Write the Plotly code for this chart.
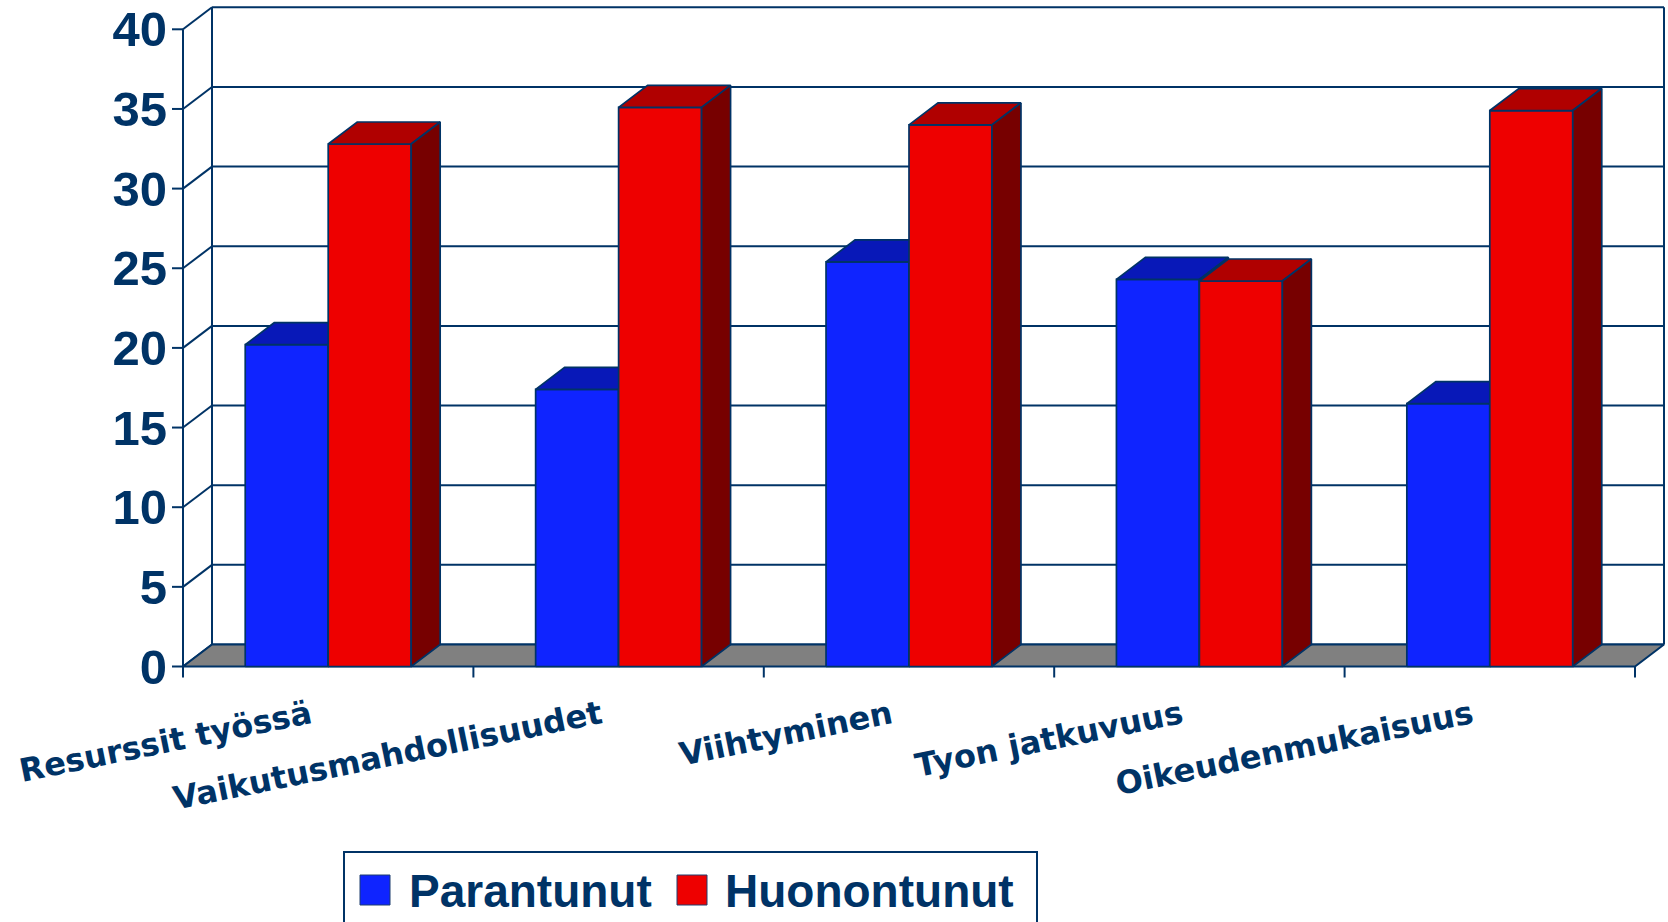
import plotly.graph_objects as go

# ---------------- data ----------------
categories = ["Resurssit työssä", "Vaikutusmahdollisuudet", "Viihtyminen",
              "Tyon jatkuvuus", "Oikeudenmukaisuus"]
parantunut = [20.2, 17.4, 25.4, 24.3, 16.5]
huonontunut = [32.8, 35.1, 34.0, 24.2, 34.9]
series_names = ["Parantunut", "Huonontunut"]
y_tick_values = [0, 5, 10, 15, 20, 25, 30, 35, 40]

# ---------------- style ----------------
NAVY = "#003366"
FACE_COLORS = {
    "Parantunut": ("#0F24FF", "#0818B8", "#000A80"),   # front, top, side
    "Huonontunut": ("#EE0000", "#B00000", "#770000"),
}
W, H = 1668, 922
X0_PX, CAT_PX = 183.0, 290.4      # front axis px, px per category
Y0_PX, UNIT_PX = 666.5, 15.93     # front zero px, px per value unit
PLOT_L, PLOT_B = 170, 680
DX = 29 / CAT_PX                  # depth offset (category units)
DY = 22 / UNIT_PX                 # depth offset (value units)
BW = 1 / 3.5                      # bar width (gap width 150%)
NCAT = len(categories)
YMAX = max(y_tick_values)

xr = [(PLOT_L - X0_PX) / CAT_PX, (W - X0_PX) / CAT_PX]
yr = [(Y0_PX - PLOT_B) / UNIT_PX, Y0_PX / UNIT_PX]


def join(polys):
    xs, ys = [], []
    for p in polys:
        xs += [pt[0] for pt in p] + [p[0][0], None]
        ys += [pt[1] for pt in p] + [p[0][1], None]
    return xs, ys


def segs(lines):
    xs, ys = [], []
    for (a, b) in lines:
        xs += [a[0], b[0], None]
        ys += [a[1], b[1], None]
    return xs, ys


fig = go.Figure()

# back wall gridlines + edges
lines = [((DX, v + DY), (NCAT + DX, v + DY)) for v in y_tick_values]
lines += [((DX, DY), (DX, YMAX + DY)), ((NCAT + DX, DY), (NCAT + DX, YMAX + DY))]
# side wall diagonals + front axis
lines += [((0, v), (DX, v + DY)) for v in y_tick_values]
lines += [((0, 0), (0, YMAX))]
# y ticks and category ticks
tlx = -11 / CAT_PX
lines += [((tlx, v), (0, v)) for v in y_tick_values]
tly = -11 / UNIT_PX
lines += [((k, 0), (k, tly)) for k in range(NCAT + 1)]
lx, ly = segs(lines)
fig.add_trace(go.Scatter(x=lx, y=ly, mode="lines", line=dict(color=NAVY, width=2),
                         hoverinfo="skip", showlegend=False))

# floor
fx, fy = join([[(0, 0), (NCAT, 0), (NCAT + DX, DY), (DX, DY)]])
fig.add_trace(go.Scatter(x=fx, y=fy, mode="lines", fill="toself", fillcolor="#808080",
                         line=dict(color=NAVY, width=2), hoverinfo="skip", showlegend=False))

# bars as 3D prisms
for s_idx, (name, vals) in enumerate(zip(series_names, [parantunut, huonontunut])):
    front_c, top_c, side_c = FACE_COLORS[name]
    fronts, tops, sides = [], [], []
    for i, v in enumerate(vals):
        x0 = i + 0.5 - BW + s_idx * BW
        x1 = x0 + BW
        fronts.append([(x0, 0), (x1, 0), (x1, v), (x0, v)])
        tops.append([(x0, v), (x1, v), (x1 + DX, v + DY), (x0 + DX, v + DY)])
        sides.append([(x1, 0), (x1 + DX, DY), (x1 + DX, v + DY), (x1, v)])
    for polys, col in [(fronts, front_c), (tops, top_c), (sides, side_c)]:
        px_, py_ = join(polys)
        fig.add_trace(go.Scatter(x=px_, y=py_, mode="lines", fill="toself", fillcolor=col,
                                 line=dict(color=NAVY, width=1.7), name=name,
                                 hoverinfo="skip", showlegend=False))

# ---------------- legend (manual, pixel-positioned) ----------------
plot_h = PLOT_B
plot_w = W - PLOT_L


def pxx(p):
    return (p - PLOT_L) / plot_w


def pxy(p):
    return (PLOT_B - p) / plot_h


shapes = [
    dict(type="rect", xref="paper", yref="paper", x0=pxx(344), x1=pxx(1037),
         y0=pxy(930), y1=pxy(852), line=dict(color=NAVY, width=2), fillcolor="white", layer="below"),
]
legend_items = [(series_names[0], 360, 407), (series_names[1], 677, 723)]
annotations = []
for name, sq_x, tx in legend_items:
    shapes.append(dict(type="rect", xref="paper", yref="paper", x0=pxx(sq_x), x1=pxx(sq_x + 30),
                       y0=pxy(905), y1=pxy(875), line=dict(color="#1F3F6F", width=1),
                       fillcolor=FACE_COLORS[name][0]))
    annotations.append(dict(xref="paper", yref="paper", x=pxx(tx), y=pxy(891), text=name,
                            showarrow=False, xanchor="left", yanchor="middle",
                            font=dict(family="Liberation Sans, Arial", size=46, color=NAVY,
                                      weight="bold")))

fig.update_layout(
    width=W, height=H,
    margin=dict(l=PLOT_L, r=0, t=0, b=H - PLOT_B, pad=0),
    paper_bgcolor="white", plot_bgcolor="white",
    showlegend=False,
    shapes=shapes, annotations=annotations,
    xaxis=dict(range=xr, tickvals=[i + 0.5 for i in range(NCAT)], ticktext=categories,
               tickangle=-11.5, ticks="", showgrid=False, zeroline=False, showline=False,
               ticklabelstandoff=10, ticklabelshift=-18,
               tickfont=dict(family="DejaVu Sans", size=32, color=NAVY, weight="bold")),
    yaxis=dict(range=yr, tickvals=y_tick_values, ticktext=[str(v) for v in y_tick_values],
               ticks="", showgrid=False, zeroline=False, showline=False,
               ticklabelstandoff=2,
               tickfont=dict(family="Liberation Sans, Arial", size=49, color=NAVY, weight="bold")),
)

fig.write_html("out.html", config={"displayModeBar": False},
               post_script="document.body.style.margin='0';")
